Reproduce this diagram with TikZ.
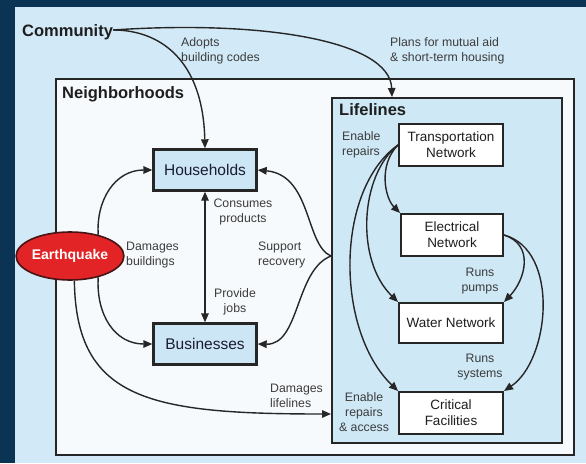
\documentclass[tikz,border=0pt]{standalone}
\usepackage{fontspec}
\setmainfont{Liberation Sans}
\usetikzlibrary{arrows.meta,shapes.geometric}
\definecolor{navy}{RGB}{11,52,84}
\definecolor{panel}{RGB}{210,234,247}
\definecolor{nbfill}{RGB}{247,250,252}
\definecolor{llfill}{RGB}{206,232,246}
\definecolor{boxfill}{RGB}{204,230,245}
\definecolor{eqred}{RGB}{226,36,38}
\definecolor{eqline}{RGB}{70,20,20}
\definecolor{linec}{RGB}{38,38,38}
\definecolor{labelc}{RGB}{60,60,60}
\definecolor{titlec}{RGB}{30,30,30}
\begin{document}
\begin{tikzpicture}[x=1pt,y=-1pt,
  lbl/.style={font=\fontsize{12.3}{15}\selectfont, text=labelc, inner sep=0pt},
  ttl/.style={font=\bfseries\fontsize{16.5}{19}\selectfont, text=titlec, inner sep=0pt},
  area/.style={draw=linec, line width=2pt, anchor=north west, inner sep=0pt},
  bigbox/.style={draw=linec, line width=2.4pt, fill=boxfill, minimum width=103pt, minimum height=41pt, inner sep=0pt, text=titlec!90!blue, font=\fontsize{15.5}{18}\selectfont},
  netbox/.style={draw=linec, line width=2pt, fill=white, minimum width=104pt, minimum height=42pt, inner sep=0pt, align=center, text=titlec, font=\fontsize{13.5}{16}\selectfont},
  conn/.style={draw=linec, line width=1.4pt, -{Triangle[length=9pt,width=7.5pt]}},
  conn2/.style={draw=linec, line width=1.4pt, {Triangle[length=9pt,width=7.5pt]}-{Triangle[length=9pt,width=7.5pt]}}
]
\useasboundingbox (0,0) rectangle (586,463);
\fill[navy] (0,0) rectangle (586,463);
\fill[panel] (15,7) rectangle (586,463);

% areas
\node[area, fill=nbfill, minimum width=518pt, minimum height=376pt] (nb) at (55,78) {};
\node[area, fill=llfill, minimum width=230pt, minimum height=345pt] (ll) at (331,97) {};
\node[ttl, anchor=base west] (nbt) at (62,98) {Neighborhoods};
\node[ttl, anchor=base west] (llt) at (339,115) {Lifelines};
\node[ttl, anchor=base west] (comm) at (22,36) {Community};

% coordinates on lifelines border
\coordinate (lltop) at (392,97);
\coordinate (sr) at (331,256);
\coordinate (dl) at (331,414);

% boxes
\node[bigbox] (hh) at (205,170) {Households};
\node[bigbox] (bus) at (205,344) {Businesses};
\node[ellipse, draw=eqline, line width=1.6pt, fill=eqred, minimum width=96pt, minimum height=48pt, inner sep=0pt, text=white, font=\bfseries\fontsize{14}{16}\selectfont] (eq) at (70,256) {Earthquake};

\node[netbox] (tr) at (451,145) {Transportation\\Network};
\node[netbox, minimum width=102pt] (el) at (452,235) {Electrical\\Network};
\node[netbox, minimum height=40pt] (wa) at (451,323) {Water Network};
\node[netbox] (cf) at (451,413) {Critical\\Facilities};

% labels
\node[lbl, align=left, anchor=west] (l1) at (181,51) {Adopts\\building codes};
\node[lbl, align=left, anchor=west] (l2) at (390,51) {Plans for mutual aid\\\& short-term housing};
\node[lbl, align=left, anchor=west] (l3) at (126,255) {Damages\\buildings};
\node[lbl, align=center] (l4) at (243,212) {Consumes\\products};
\node[lbl, align=center] (l5) at (235,302) {Provide\\jobs};
\node[lbl, align=left, anchor=west] (l6) at (258,255) {Support\\recovery};
\node[lbl, align=left, anchor=west] (l7) at (270,396) {Damages\\lifelines};
\node[lbl, align=left, anchor=west] (l8) at (342,145) {Enable\\repairs};
\node[lbl, align=center] (l9) at (480,281) {Runs\\pumps};
\node[lbl, align=center] (l10) at (480,367) {Runs\\systems};
\node[lbl, align=center] (l11) at (364,412) {Enable\\repairs\\\& access};

% connectors
\draw[conn] (comm.base east) ++(0,-6) .. controls (160,30) and (203,60) .. (hh.north);
\draw[conn] (comm.base east) ++(0,-6) .. controls (260,20) and (390,40) .. (lltop);
\draw[conn] (eq.37) .. controls (96,200) and (115,170) .. (hh.west);
\draw[conn] (eq.-37) .. controls (96,315) and (115,344) .. (bus.west);
\draw[conn] (eq.-80) .. controls (76,400) and (150,414) .. (dl);
\draw[conn2] (hh.south) -- (bus.north);
\draw[conn] (sr) .. controls (305,245) and (312,175) .. (hh.east);
\draw[conn] (sr) .. controls (295,270) and (300,345) .. (bus.east);

\draw[conn] (tr.west) .. controls (378,165) and (385,198) .. (el.north west);
\draw[conn] (tr.west) .. controls (360,175) and (355,260) .. (wa.north west);
\draw[conn] (tr.west) .. controls (335,190) and (335,330) .. (cf.north west);
\draw[conn] (el.east) .. controls (535,245) and (525,280) .. (wa.north east);
\draw[conn] (el.east) .. controls (560,250) and (550,360) .. (cf.north east);
\end{tikzpicture}
\end{document}
